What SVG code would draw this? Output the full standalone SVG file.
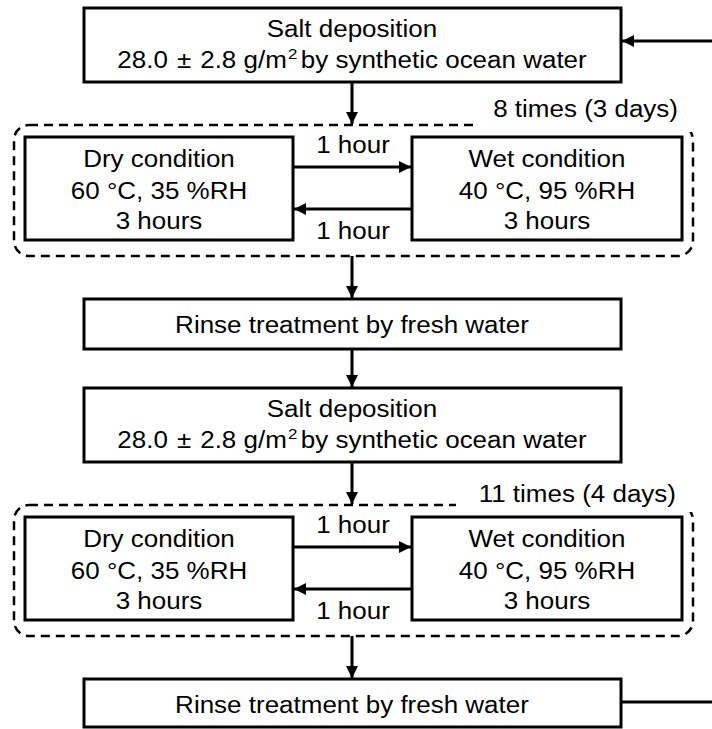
<svg xmlns="http://www.w3.org/2000/svg" width="712" height="729" viewBox="0 0 712 729">
  <style>
    .box { fill: #fff; stroke: #000; stroke-width: 3; }
    .loop { fill: none; stroke: #000; stroke-width: 2.5; stroke-dasharray: 9 6; }
    .wire { fill: none; stroke: #000; stroke-width: 3; }
    .t { font-family: "Liberation Sans", Arial, sans-serif; font-size: 23px; fill: #000; text-anchor: middle; }
    .lbl { font-family: "Liberation Sans", Arial, sans-serif; font-size: 23px; fill: #000; text-anchor: end; }
    .sup { font-size: 15px; }
  </style>
  <defs>
    <marker id="head" viewBox="0 0 10 10" refX="10" refY="5" markerWidth="4" markerHeight="4" orient="auto" markerUnits="strokeWidth">
      <path d="M0,0 L10,5 L0,10 Z" fill="#000"/>
    </marker>
  </defs>
  <rect width="712" height="729" fill="#fff"/>

  <!-- cycle frames with their repetition labels -->
  <g id="loop-1">
    <rect class="loop" x="14" y="125" width="679" height="131" rx="15"/>
    <rect x="476" y="98" width="230" height="34" fill="#fff"/>
    <text class="lbl" transform="translate(678 117) scale(1.13 1)">8 times (3 days)</text>
  </g>
  <g id="loop-2">
    <rect class="loop" x="14" y="505" width="679" height="131" rx="15"/>
    <rect x="456" y="478" width="250" height="34" fill="#fff"/>
    <text class="lbl" transform="translate(676 502) scale(1.13 1)">11 times (4 days)</text>
  </g>

  <!-- connectors -->
  <g id="connectors">
    <path class="wire" d="M352,82 V124" marker-end="url(#head)"/>
    <path class="wire" d="M293,167 H411" marker-end="url(#head)"/>
    <path class="wire" d="M412,209 H294" marker-end="url(#head)"/>
    <path class="wire" d="M352,256 V298" marker-end="url(#head)"/>
    <path class="wire" d="M352,349 V387" marker-end="url(#head)"/>
    <path class="wire" d="M352,462 V504" marker-end="url(#head)"/>
    <path class="wire" d="M293,547 H411" marker-end="url(#head)"/>
    <path class="wire" d="M412,589 H294" marker-end="url(#head)"/>
    <path class="wire" d="M352,636 V678" marker-end="url(#head)"/>
    <!-- return path back to the first salt deposition -->
    <path class="wire" d="M621,702 H712"/>
    <path class="wire" d="M712,41 H622" marker-end="url(#head)"/>
  </g>

  <g id="edge-labels">
    <text class="t" transform="translate(353 153) scale(1.13 1)">1 hour</text>
    <text class="t" transform="translate(353 239) scale(1.13 1)">1 hour</text>
    <text class="t" transform="translate(353 533) scale(1.13 1)">1 hour</text>
    <text class="t" transform="translate(353 619) scale(1.13 1)">1 hour</text>
  </g>

  <!-- first round -->
  <g id="salt-1">
    <rect class="box" x="84" y="8" width="537" height="74"/>
    <text class="t" transform="translate(352 37) scale(1.13 1)">Salt deposition</text>
    <text class="t" transform="translate(352 68) scale(1.13 1)">28.0<tspan dx="8">±</tspan><tspan dx="8">2.8 g/m</tspan><tspan class="sup" dx="1" dy="-9">2</tspan><tspan dx="3" dy="9">by synthetic ocean water</tspan></text>
  </g>
  <g id="dry-1">
    <rect class="box" x="25" y="137" width="268" height="103"/>
    <text class="t" transform="translate(159 167) scale(1.13 1)">Dry condition</text>
    <text class="t" transform="translate(159 199) scale(1.13 1)">60 °C, 35 %RH</text>
    <text class="t" transform="translate(159 229) scale(1.13 1)">3 hours</text>
  </g>
  <g id="wet-1">
    <rect class="box" x="412" y="137" width="270" height="103"/>
    <text class="t" transform="translate(547 167) scale(1.13 1)">Wet condition</text>
    <text class="t" transform="translate(547 199) scale(1.13 1)">40 °C, 95 %RH</text>
    <text class="t" transform="translate(547 229) scale(1.13 1)">3 hours</text>
  </g>
  <g id="rinse-1">
    <rect class="box" x="84" y="299" width="537" height="50"/>
    <text class="t" transform="translate(352 333) scale(1.13 1)">Rinse treatment by fresh water</text>
  </g>

  <!-- second round -->
  <g id="salt-2">
    <rect class="box" x="84" y="388" width="537" height="74"/>
    <text class="t" transform="translate(352 417) scale(1.13 1)">Salt deposition</text>
    <text class="t" transform="translate(352 448) scale(1.13 1)">28.0<tspan dx="8">±</tspan><tspan dx="8">2.8 g/m</tspan><tspan class="sup" dx="1" dy="-9">2</tspan><tspan dx="3" dy="9">by synthetic ocean water</tspan></text>
  </g>
  <g id="dry-2">
    <rect class="box" x="25" y="517" width="268" height="103"/>
    <text class="t" transform="translate(159 547) scale(1.13 1)">Dry condition</text>
    <text class="t" transform="translate(159 579) scale(1.13 1)">60 °C, 35 %RH</text>
    <text class="t" transform="translate(159 609) scale(1.13 1)">3 hours</text>
  </g>
  <g id="wet-2">
    <rect class="box" x="412" y="517" width="270" height="103"/>
    <text class="t" transform="translate(547 547) scale(1.13 1)">Wet condition</text>
    <text class="t" transform="translate(547 579) scale(1.13 1)">40 °C, 95 %RH</text>
    <text class="t" transform="translate(547 609) scale(1.13 1)">3 hours</text>
  </g>
  <g id="rinse-2">
    <rect class="box" x="84" y="679" width="537" height="48"/>
    <text class="t" transform="translate(352 713) scale(1.13 1)">Rinse treatment by fresh water</text>
  </g>
</svg>
